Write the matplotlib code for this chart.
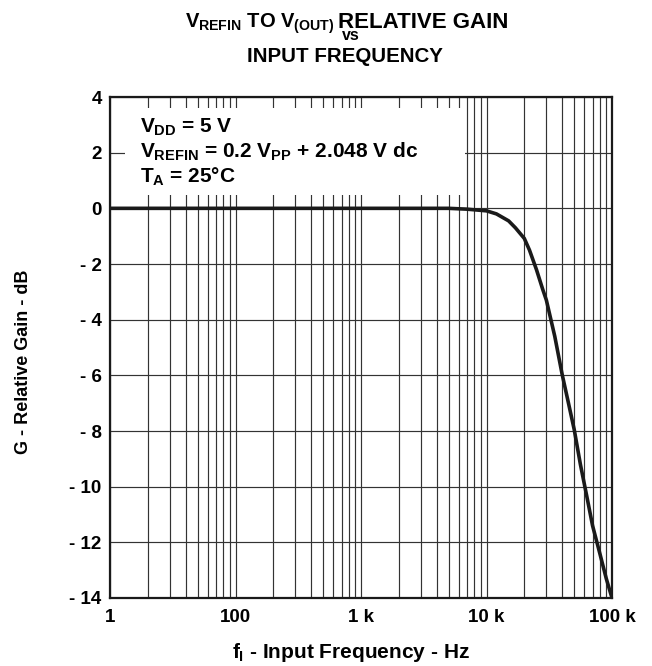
import matplotlib
matplotlib.use("Agg")
import matplotlib.pyplot as plt
from matplotlib.patches import Rectangle
from matplotlib.ticker import LogLocator, NullFormatter

# datos
freq_hz = [10, 100, 1000, 3000, 5000, 7000, 10000, 12000, 15000, 17000, 20000,
           22000, 25000, 28000, 30000, 35000, 40000, 45000, 50000, 56000,
           63000, 70000, 80000, 90000, 100000]
gain_db = [0, 0, 0, 0, 0, -0.03, -0.09, -0.2, -0.45, -0.7, -1.08,
           -1.5, -2.2, -2.9, -3.3, -4.6, -5.95, -7.0, -7.95, -9.2,
           -10.35, -11.4, -12.4, -13.3, -14.0]

x_ticks = [10, 100, 1000, 10000, 100000]
x_labels = ["1", "100", "1 k", "10 k", "100 k"]
y_ticks = [4, 2, 0, -2, -4, -6, -8, -10, -12, -14]
y_labels = ["4", "2", "0", "- 2", "- 4", "- 6", "- 8", "- 10", "- 12", "- 14"]

plt.rcParams["font.family"] = ["Liberation Sans", "DejaVu Sans"]
plt.rcParams["font.weight"] = "bold"
plt.rcParams["mathtext.fontset"] = "custom"
plt.rcParams["mathtext.rm"] = "Liberation Sans:bold"
plt.rcParams["mathtext.it"] = "Liberation Sans:bold"
plt.rcParams["mathtext.bf"] = "Liberation Sans:bold"

fig = plt.figure(figsize=(6.52, 6.66), dpi=100)
ax = fig.add_axes([110 / 652, 1 - 598 / 666, 502 / 652, 501 / 666])

ax.plot(freq_hz, gain_db, color="#1a1a1a", lw=2.6, zorder=3, solid_capstyle="butt")
ax.set_xscale("log")
ax.set_xlim(10, 100000)
ax.set_ylim(-14, 4)

ax.set_xticks(x_ticks)
ax.set_xticklabels(x_labels)
ax.xaxis.set_minor_locator(LogLocator(base=10, subs=range(2, 10), numticks=20))
ax.xaxis.set_minor_formatter(NullFormatter())
ax.set_yticks(y_ticks)
ax.set_yticklabels(y_labels)

ax.tick_params(which="both", length=0)
ax.tick_params(axis="x", pad=8, labelsize=13.5)
ax.tick_params(axis="y", pad=6, labelsize=13.5)

ax.set_axisbelow(True)
ax.grid(True, which="both", color="#333333", lw=0.85)

for s in ax.spines.values():
    s.set_linewidth(1.6)
    s.set_color("#1a1a1a")

# caja blanca detras del texto
ax.add_patch(Rectangle((13.2, 0.48), 6750 - 13.2, 3.6 - 0.48,
                       facecolor="white", edgecolor="none", zorder=1))

fs_note = 15
fig.text(140 / 652, 1 - 133 / 666, r"$V_{DD}$ = 5 V", fontsize=fs_note, va="baseline")
fig.text(140 / 652, 1 - 158 / 666, r"$V_{REFIN}$ = 0.2 $V_{PP}$ + 2.048 V dc",
         fontsize=fs_note, va="baseline")
fig.text(140 / 652, 1 - 183 / 666, r"$T_{A}$ = 25°C", fontsize=fs_note, va="baseline")

# titulo (primera linea en dos partes para dejar sitio al "vs")
fig.text(334 / 652, 1 - 28 / 666, r"$V_{REFIN}$ TO $V_{(OUT)}$",
         fontsize=14.5, ha="right", va="baseline")
fig.text(338 / 652, 1 - 28 / 666, "RELATIVE GAIN",
         fontsize=16, ha="left", va="baseline")
fig.text(351 / 652, 1 - 40 / 666, "vs", fontsize=11.5, ha="center", va="baseline")
fig.text(345 / 652, 1 - 61.7 / 666, "INPUT FREQUENCY", fontsize=14.8,
         ha="center", va="baseline")

fig.text(350.5 / 652, 1 - 658 / 666, r"$f_{I}$ - Input Frequency - Hz",
         fontsize=15, ha="center", va="baseline")
fig.text(24 / 652, 1 - 362 / 666, "G - Relative Gain - dB", fontsize=13,
         rotation=90, ha="center", va="center")

plt.savefig("out.png", dpi=100)
plt.close()
